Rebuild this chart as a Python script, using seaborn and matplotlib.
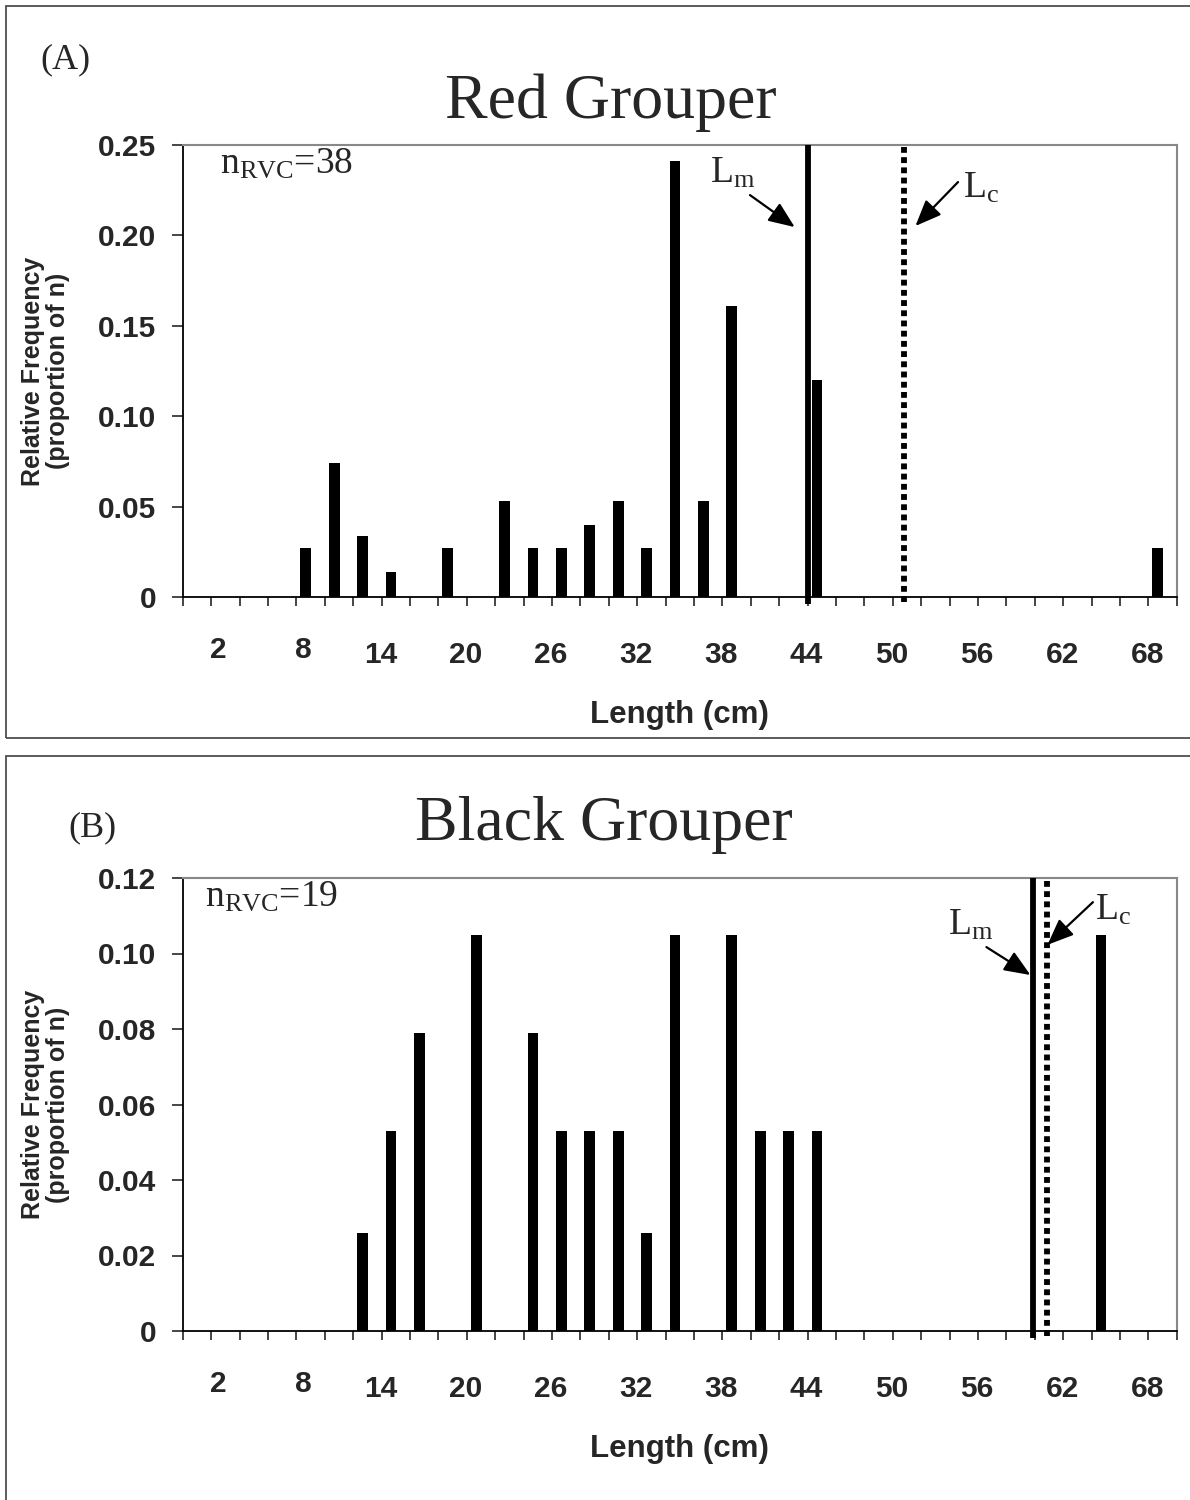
import numpy as np
import matplotlib
matplotlib.use('Agg')
import matplotlib.pyplot as plt
import matplotlib.ticker as mticker
import matplotlib.transforms as mtransforms
from matplotlib.patches import Rectangle
import seaborn as sns

# length classes (cm) and relative frequency
red_length = [8, 10, 12, 14, 18, 22, 24, 26, 28, 30, 32, 34, 36, 38, 44, 68]
red_freq = [0.027, 0.074, 0.034, 0.014, 0.027, 0.053, 0.027, 0.027, 0.040,
            0.053, 0.027, 0.241, 0.053, 0.161, 0.120, 0.027]
red_n = 38
red_lm = 43.5
red_lc = 50.3

black_length = [12, 14, 16, 20, 24, 26, 28, 30, 32, 34, 38, 40, 42, 44, 64]
black_freq = [0.026, 0.053, 0.079, 0.105, 0.079, 0.053, 0.053, 0.053, 0.026,
              0.105, 0.105, 0.053, 0.053, 0.053, 0.105]
black_n = 19
black_lm = 59.4
black_lc = 60.4

xtick_values = [2, 8, 14, 20, 26, 32, 38, 44, 50, 56, 62, 68]
red_yticks = [0, 0.05, 0.10, 0.15, 0.20, 0.25]
black_yticks = [0, 0.02, 0.04, 0.06, 0.08, 0.10, 0.12]

# style
sns.set_style('ticks')
plt.rcParams['font.family'] = ['Liberation Sans', 'DejaVu Sans']
plt.rcParams['font.weight'] = 'bold'
plt.rcParams['mathtext.fontset'] = 'custom'
plt.rcParams['mathtext.rm'] = 'Liberation Serif:weight=normal'
plt.rcParams['mathtext.it'] = 'Liberation Serif:italic:weight=normal'
plt.rcParams['mathtext.bf'] = 'Liberation Serif:weight=normal'
serif = ['Liberation Serif', 'DejaVu Serif']

W, H = 1190, 1500
fig = plt.figure(figsize=(W / 100, H / 100), dpi=100)
fig.patch.set_facecolor('white')

bar_shift = 0.17  # excel puts the bars a little right of the class centre


def fy(py):
    return 1 - py / H


def draw_panel(ax, length, freq, ymax, yticks, lm, lc, n, lm_txt, lm_arr, lc_txt, lc_arr, n_x):
    sns.barplot(x=np.array(length) + bar_shift, y=freq, native_scale=True, color='black',
                saturation=1, width=0.375, errorbar=None, linewidth=0, ax=ax)
    ax.set_xlim(-0.5, 69.5)
    ax.set_ylim(0, ymax)

    # Lm solid, Lc dotted
    ax.plot([lm, lm], [-0.015 * ymax, ymax], color='black', lw=4.2, solid_capstyle='butt',
            clip_on=False, zorder=4)
    ax.plot([lc, lc], [-0.011 * ymax, ymax], color='black', lw=4.2, ls=(0, (1.0, 0.75)),
            dash_capstyle='butt', clip_on=False, zorder=4)

    ax.text(lm_txt[0], lm_txt[1], r'L$_{\mathrm{m}}$', fontsize=27, family=serif,
            fontweight='normal', va='baseline')
    ax.text(lc_txt[0], lc_txt[1], r'L$_{\mathrm{c}}$', fontsize=27, family=serif,
            fontweight='normal', va='baseline')
    for tail, head in (lm_arr, lc_arr):
        ax.annotate('', xy=head, xytext=tail,
                    arrowprops=dict(arrowstyle='-|>,head_length=0.8,head_width=0.33', color='black',
                                    lw=1.6, mutation_scale=20, shrinkA=0, shrinkB=0))

    ax.text(n_x, 0.94, r'n$_{\mathrm{RVC}}$=%d' % n, transform=ax.transAxes, fontsize=27,
            family=serif, fontweight='normal', va='baseline')

    # axes look
    for s in ['top', 'right']:
        ax.spines[s].set_color('#888888')
        ax.spines[s].set_linewidth(1.5)
    for s in ['left', 'bottom']:
        ax.spines[s].set_color('black')
        ax.spines[s].set_linewidth(1.3)

    ax.set_yticks(yticks)
    ax.yaxis.set_major_formatter(mticker.FuncFormatter(lambda v, p: '0' if v == 0 else '%.2f' % v))
    ax.tick_params(axis='y', length=8, width=1.2, pad=11, labelsize=21.5, direction='out')

    ax.set_xticks(np.arange(-0.5, 70, 2))
    ax.set_xticks(xtick_values, minor=True)
    ax.set_xticklabels([str(v) for v in xtick_values], minor=True)
    ax.tick_params(axis='x', which='major', length=6.5, width=1.2, direction='out', labelbottom=False)
    ax.tick_params(axis='x', which='minor', length=0, pad=28, labelsize=21.5)

    ax.set_xlabel('Length (cm)', fontsize=22.5, fontweight='bold')
    ax.xaxis.set_label_coords(0.5, -0.228)
    ax.set_ylabel('Relative Frequency\n(proportion of n)', fontsize=18, fontweight='bold',
                  linespacing=1.05)
    ax.yaxis.set_label_coords(-0.1134, 0.5)

    # excel staggers the later labels a bit lower and left
    shift = mtransforms.ScaledTranslation(-0.08, -0.055, fig.dpi_scale_trans)
    for i, lab in enumerate(ax.get_xticklabels(minor=True)):
        if i >= 2:
            lab.set_transform(lab.get_transform() + shift)


ax_left, ax_w = 182.7 / W, (1176.7 - 182.7) / W
axA = fig.add_axes([ax_left, fy(597), ax_w, (597 - 145) / H])
axB = fig.add_axes([ax_left, fy(1331), ax_w, (1331 - 878) / H])

draw_panel(axA, red_length, red_freq, 0.25, red_yticks, red_lm, red_lc, red_n,
           (36.6, 0.229), ((39.45, 0.2223), (42.6, 0.2046)),
           (54.45, 0.2207), ((54.1, 0.2295), (51.1, 0.2052)), 0.0375)
draw_panel(axB, black_length, black_freq, 0.12, black_yticks, black_lm, black_lc, black_n,
           (53.4, 0.1049), ((56.1, 0.1017), (59.2, 0.0943)),
           (63.75, 0.1089), ((63.6, 0.1136), (60.4, 0.1023)), 0.022)

# panel frames and titles
fig.patches.append(Rectangle((6 / W, fy(738)), 1.0, (738 - 6) / H, transform=fig.transFigure,
                             fill=False, edgecolor='#404040', lw=1.2))
fig.patches.append(Rectangle((6 / W, -0.05), 1.0, fy(756) + 0.05, transform=fig.transFigure,
                             fill=False, edgecolor='#404040', lw=1.2))

fig.text(40 / W, fy(68), '(A)', fontsize=26, family=serif, fontweight='normal', va='baseline')
fig.text(68 / W, fy(836), '(B)', fontsize=26, family=serif, fontweight='normal', va='baseline')
fig.text(611 / W, fy(118), 'Red Grouper', fontsize=46, family=serif, fontweight='normal',
         ha='center', va='baseline')
fig.text(604 / W, fy(840), 'Black Grouper', fontsize=46, family=serif, fontweight='normal',
         ha='center', va='baseline')

fig.savefig('out.png', dpi=100, facecolor='white')
